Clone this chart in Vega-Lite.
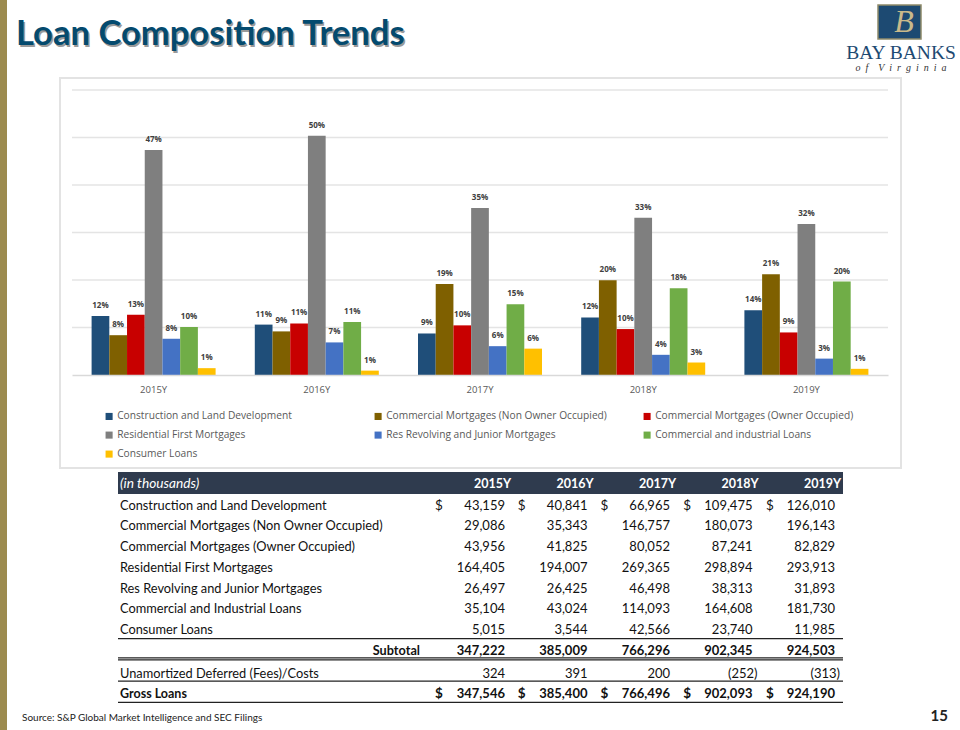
{"$schema":"https://vega.github.io/schema/vega-lite/v6.json","width":960,"height":730,"padding":0,"autosize":{"type":"fit","contains":"padding"},"background":"#ffffff","config":{"view":{"stroke":null},"axis":{"grid":false}},
"datasets":{
"shares":[
{"year":"2015Y","series":"Construction and Land Development","share":0.1243},{"year":"2015Y","series":"Commercial Mortgages (Non Owner Occupied)","share":0.0838},{"year":"2015Y","series":"Commercial Mortgages (Owner Occupied)","share":0.1266},{"year":"2015Y","series":"Residential First Mortgages","share":0.4735},{"year":"2015Y","series":"Res Revolving and Junior Mortgages","share":0.0763},{"year":"2015Y","series":"Commercial and industrial Loans","share":0.1011},{"year":"2015Y","series":"Consumer Loans","share":0.0144},
{"year":"2016Y","series":"Construction and Land Development","share":0.1061},{"year":"2016Y","series":"Commercial Mortgages (Non Owner Occupied)","share":0.0918},{"year":"2016Y","series":"Commercial Mortgages (Owner Occupied)","share":0.1086},{"year":"2016Y","series":"Residential First Mortgages","share":0.5039},{"year":"2016Y","series":"Res Revolving and Junior Mortgages","share":0.0686},{"year":"2016Y","series":"Commercial and industrial Loans","share":0.1117},{"year":"2016Y","series":"Consumer Loans","share":0.0092},
{"year":"2017Y","series":"Construction and Land Development","share":0.0874},{"year":"2017Y","series":"Commercial Mortgages (Non Owner Occupied)","share":0.1915},{"year":"2017Y","series":"Commercial Mortgages (Owner Occupied)","share":0.1045},{"year":"2017Y","series":"Residential First Mortgages","share":0.3515},{"year":"2017Y","series":"Res Revolving and Junior Mortgages","share":0.0607},{"year":"2017Y","series":"Commercial and industrial Loans","share":0.1489},{"year":"2017Y","series":"Consumer Loans","share":0.0555},
{"year":"2018Y","series":"Construction and Land Development","share":0.1213},{"year":"2018Y","series":"Commercial Mortgages (Non Owner Occupied)","share":0.1996},{"year":"2018Y","series":"Commercial Mortgages (Owner Occupied)","share":0.0967},{"year":"2018Y","series":"Residential First Mortgages","share":0.3312},{"year":"2018Y","series":"Res Revolving and Junior Mortgages","share":0.0425},{"year":"2018Y","series":"Commercial and industrial Loans","share":0.1824},{"year":"2018Y","series":"Consumer Loans","share":0.0263},
{"year":"2019Y","series":"Construction and Land Development","share":0.1363},{"year":"2019Y","series":"Commercial Mortgages (Non Owner Occupied)","share":0.2122},{"year":"2019Y","series":"Commercial Mortgages (Owner Occupied)","share":0.0896},{"year":"2019Y","series":"Residential First Mortgages","share":0.3179},{"year":"2019Y","series":"Res Revolving and Junior Mortgages","share":0.0345},{"year":"2019Y","series":"Commercial and industrial Loans","share":0.1966},{"year":"2019Y","series":"Consumer Loans","share":0.0130}],
"grid":[{"tick":0.1},{"tick":0.2},{"tick":0.3},{"tick":0.4},{"tick":0.5},{"tick":0.6}],
"table":[
{"row":"Construction and Land Development","year":"2015Y","amount":43159},{"row":"Construction and Land Development","year":"2016Y","amount":40841},{"row":"Construction and Land Development","year":"2017Y","amount":66965},{"row":"Construction and Land Development","year":"2018Y","amount":109475},{"row":"Construction and Land Development","year":"2019Y","amount":126010},
{"row":"Commercial Mortgages (Non Owner Occupied)","year":"2015Y","amount":29086},{"row":"Commercial Mortgages (Non Owner Occupied)","year":"2016Y","amount":35343},{"row":"Commercial Mortgages (Non Owner Occupied)","year":"2017Y","amount":146757},{"row":"Commercial Mortgages (Non Owner Occupied)","year":"2018Y","amount":180073},{"row":"Commercial Mortgages (Non Owner Occupied)","year":"2019Y","amount":196143},
{"row":"Commercial Mortgages (Owner Occupied)","year":"2015Y","amount":43956},{"row":"Commercial Mortgages (Owner Occupied)","year":"2016Y","amount":41825},{"row":"Commercial Mortgages (Owner Occupied)","year":"2017Y","amount":80052},{"row":"Commercial Mortgages (Owner Occupied)","year":"2018Y","amount":87241},{"row":"Commercial Mortgages (Owner Occupied)","year":"2019Y","amount":82829},
{"row":"Residential First Mortgages","year":"2015Y","amount":164405},{"row":"Residential First Mortgages","year":"2016Y","amount":194007},{"row":"Residential First Mortgages","year":"2017Y","amount":269365},{"row":"Residential First Mortgages","year":"2018Y","amount":298894},{"row":"Residential First Mortgages","year":"2019Y","amount":293913},
{"row":"Res Revolving and Junior Mortgages","year":"2015Y","amount":26497},{"row":"Res Revolving and Junior Mortgages","year":"2016Y","amount":26425},{"row":"Res Revolving and Junior Mortgages","year":"2017Y","amount":46498},{"row":"Res Revolving and Junior Mortgages","year":"2018Y","amount":38313},{"row":"Res Revolving and Junior Mortgages","year":"2019Y","amount":31893},
{"row":"Commercial and Industrial Loans","year":"2015Y","amount":35104},{"row":"Commercial and Industrial Loans","year":"2016Y","amount":43024},{"row":"Commercial and Industrial Loans","year":"2017Y","amount":114093},{"row":"Commercial and Industrial Loans","year":"2018Y","amount":164608},{"row":"Commercial and Industrial Loans","year":"2019Y","amount":181730},
{"row":"Consumer Loans","year":"2015Y","amount":5015},{"row":"Consumer Loans","year":"2016Y","amount":3544},{"row":"Consumer Loans","year":"2017Y","amount":42566},{"row":"Consumer Loans","year":"2018Y","amount":23740},{"row":"Consumer Loans","year":"2019Y","amount":11985},
{"row":"Subtotal","year":"2015Y","amount":347222},{"row":"Subtotal","year":"2016Y","amount":385009},{"row":"Subtotal","year":"2017Y","amount":766296},{"row":"Subtotal","year":"2018Y","amount":902345},{"row":"Subtotal","year":"2019Y","amount":924503},
{"row":"Unamortized Deferred (Fees)/Costs","year":"2015Y","amount":324},{"row":"Unamortized Deferred (Fees)/Costs","year":"2016Y","amount":391},{"row":"Unamortized Deferred (Fees)/Costs","year":"2017Y","amount":200},{"row":"Unamortized Deferred (Fees)/Costs","year":"2018Y","amount":-252},{"row":"Unamortized Deferred (Fees)/Costs","year":"2019Y","amount":-313},
{"row":"Gross Loans","year":"2015Y","amount":347546},{"row":"Gross Loans","year":"2016Y","amount":385400},{"row":"Gross Loans","year":"2017Y","amount":766496},{"row":"Gross Loans","year":"2018Y","amount":902093},{"row":"Gross Loans","year":"2019Y","amount":924190}]
},
"layer":[
{"data":{"values":[{"item":"edge band"}]},"mark":{"type":"rect","fill":"#9c8b4f"},"encoding":{"x":{"datum":0,"type":"quantitative","scale":{"domain":[0,1],"range":[0,7]},"axis":null},"x2":{"datum":1},"y":{"datum":0,"type":"quantitative","scale":{"domain":[0,1],"range":[0,730]},"axis":null},"y2":{"datum":1}}},
{"data":{"values":[{"item":"chart frame"}]},"mark":{"type":"rect","fill":"#ffffff","stroke":"#e3e3e3","strokeWidth":2},"encoding":{"x":{"datum":0,"type":"quantitative","scale":{"domain":[0,1],"range":[60,901]},"axis":null},"x2":{"datum":1},"y":{"datum":0,"type":"quantitative","scale":{"domain":[0,1],"range":[78,468]},"axis":null},"y2":{"datum":1}}},
{"data":{"name":"grid"},"mark":{"type":"rule","stroke":"#e4e4e4","strokeWidth":1.5},"encoding":{"x":{"datum":0,"type":"quantitative","scale":{"domain":[0,1],"range":[72,888]},"axis":null},"x2":{"datum":1},"y":{"field":"tick","type":"quantitative","scale":{"domain":[0,0.6],"range":[375,90]},"axis":null}}},
{"data":{"name":"shares"},"encoding":{"x":{"field":"year","type":"nominal","scale":{"range":[72,888],"paddingInner":0,"paddingOuter":0},"axis":{"title":null,"orient":"bottom","offset":-355,"zindex":1,"ticks":false,"domainColor":"#d9d9d9","domainWidth":1.5,"labelColor":"#595959","labelFont":"Open Sans","labelFontSize":9.5,"labelPadding":9,"labelAngle":0}},"xOffset":{"field":"series","type":"nominal","scale":{"domain":["Construction and Land Development","Commercial Mortgages (Non Owner Occupied)","Commercial Mortgages (Owner Occupied)","Residential First Mortgages","Res Revolving and Junior Mortgages","Commercial and industrial Loans","Consumer Loans"],"paddingInner":0,"paddingOuter":0,"range":[19.6,143.6]}},"y":{"field":"share","type":"quantitative","scale":{"domain":[0,0.6],"range":[375,90]},"axis":null}},
"layer":[
{"mark":{"type":"bar"},"encoding":{"color":{"field":"series","type":"nominal","scale":{"domain":["Construction and Land Development","Commercial Mortgages (Non Owner Occupied)","Commercial Mortgages (Owner Occupied)","Residential First Mortgages","Res Revolving and Junior Mortgages","Commercial and industrial Loans","Consumer Loans"],"range":["#1f4e79","#7f6000","#c80000","#7f7f7f","#4472c4","#70ad47","#ffc000"]},"legend":{"title":null,"orient":"none","legendX":104,"legendY":411,"columns":3,"direction":"horizontal","gridAlign":"all","symbolType":"square","symbolSize":50,"symbolStrokeWidth":0,"labelFont":"Open Sans","labelFontSize":10.2,"labelColor":"#595959","labelLimit":300,"labelOffset":3,"columnPadding":35,"rowPadding":8}}}},
{"mark":{"type":"text","dy":-10,"font":"Open Sans","fontSize":8,"fontWeight":"bold","fill":"#404040"},"encoding":{"text":{"field":"share","type":"quantitative","format":".0%"}}}
]},
{"data":{"values":[{"t":"Loan Composition Trends"}]},"mark":{"type":"text","align":"left","baseline":"alphabetic","font":"Lato","fontWeight":"bold","fontSize":34.6,"fill":"#9a9a9a"},"encoding":{"x":{"datum":0,"type":"quantitative","scale":{"domain":[0,1],"range":[17.5,18.5]},"axis":null},"y":{"datum":0,"type":"quantitative","scale":{"domain":[0,1],"range":[46.5,47.5]},"axis":null},"text":{"field":"t"}}},
{"data":{"values":[{"t":"Loan Composition Trends"}]},"mark":{"type":"text","align":"left","baseline":"alphabetic","font":"Lato","fontWeight":"bold","fontSize":34.6,"fill":"#044a6e"},"encoding":{"x":{"datum":0,"type":"quantitative","scale":{"domain":[0,1],"range":[16,17]},"axis":null},"y":{"datum":0,"type":"quantitative","scale":{"domain":[0,1],"range":[45,46]},"axis":null},"text":{"field":"t"}}},
{"data":{"values":[{"item":"logo crest"}]},"mark":{"type":"rect","fill":"#1d4a72","stroke":"#8f8a6a","strokeWidth":1.5},"encoding":{"x":{"datum":0,"type":"quantitative","scale":{"domain":[0,1],"range":[878,921]},"axis":null},"x2":{"datum":1},"y":{"datum":0,"type":"quantitative","scale":{"domain":[0,1],"range":[5,39]},"axis":null},"y2":{"datum":1}}},
{"data":{"values":[{"t":"B"}]},"mark":{"type":"text","align":"center","baseline":"middle","font":"Liberation Serif","fontStyle":"italic","fontSize":32,"fill":"#c9b98a"},"encoding":{"x":{"datum":0,"type":"quantitative","scale":{"domain":[0,1],"range":[904,905]},"axis":null},"y":{"datum":0,"type":"quantitative","scale":{"domain":[0,1],"range":[22,23]},"axis":null},"text":{"field":"t"}}},
{"data":{"values":[{"t":"BAY BANKS"}]},"mark":{"type":"text","align":"center","baseline":"alphabetic","font":"Liberation Serif","fontSize":19.5,"fill":"#1d4a72"},"encoding":{"x":{"datum":0,"type":"quantitative","scale":{"domain":[0,1],"range":[901,902]},"axis":null},"y":{"datum":0,"type":"quantitative","scale":{"domain":[0,1],"range":[59,60]},"axis":null},"text":{"field":"t"}}},
{"data":{"values":[{"t":"o\u00a0\u00a0f\u00a0\u00a0\u00a0\u00a0V\u00a0\u00a0i\u00a0\u00a0r\u00a0\u00a0g\u00a0\u00a0i\u00a0\u00a0n\u00a0\u00a0i\u00a0\u00a0a"}]},"mark":{"type":"text","align":"center","baseline":"alphabetic","font":"Liberation Serif","fontStyle":"italic","fontSize":10,"fill":"#333333"},"encoding":{"x":{"datum":0,"type":"quantitative","scale":{"domain":[0,1],"range":[901,902]},"axis":null},"y":{"datum":0,"type":"quantitative","scale":{"domain":[0,1],"range":[71,72]},"axis":null},"text":{"field":"t"}}},
{"data":{"values":[{"item":"table header"}]},"mark":{"type":"rect","fill":"#2f3b4e"},"encoding":{"x":{"datum":0,"type":"quantitative","scale":{"domain":[0,1],"range":[118,843]},"axis":null},"x2":{"datum":1},"y":{"datum":0,"type":"quantitative","scale":{"domain":[0,1],"range":[472,494]},"axis":null},"y2":{"datum":1}}},
{"data":{"values":[{"t":"(in thousands)"}]},"mark":{"type":"text","align":"left","baseline":"middle","font":"Lato","fontStyle":"italic","fontSize":13.7,"fill":"#ffffff"},"encoding":{"x":{"datum":0,"type":"quantitative","scale":{"domain":[0,1],"range":[120,121]},"axis":null},"y":{"datum":0,"type":"quantitative","scale":{"domain":[0,1],"range":[484,485]},"axis":null},"text":{"field":"t"}}},
{"data":{"values":[{"year":"2015Y"},{"year":"2016Y"},{"year":"2017Y"},{"year":"2018Y"},{"year":"2019Y"}]},"mark":{"type":"text","align":"right","baseline":"middle","dx":6,"font":"Lato","fontWeight":"bold","fontSize":12.5,"fill":"#ffffff"},"encoding":{"x":{"field":"year","type":"nominal","scale":{"type":"point","padding":0,"range":[505,835]},"axis":null},"y":{"datum":0,"type":"quantitative","scale":{"domain":[0,1],"range":[484,485]},"axis":null},"text":{"field":"year"}}},
{"data":{"name":"table"},"transform":[{"filter":"datum.year=='2015Y' && datum.row!='Subtotal' && datum.row!='Gross Loans' && datum.row!='Unamortized Deferred (Fees)/Costs'"}],"mark":{"type":"text","align":"left","baseline":"middle","font":"Lato","fontSize":12.8,"fill":"#111111"},"encoding":{"x":{"datum":0,"type":"quantitative","scale":{"domain":[0,1],"range":[120,121]},"axis":null},"y":{"field":"row","type":"nominal","scale":{"type":"point","padding":0,"domain":["Construction and Land Development","Commercial Mortgages (Non Owner Occupied)","Commercial Mortgages (Owner Occupied)","Residential First Mortgages","Res Revolving and Junior Mortgages","Commercial and Industrial Loans","Consumer Loans","Subtotal"],"range":[505.7,650.7]},"axis":null},"text":{"field":"row"}}},
{"data":{"name":"table"},"transform":[{"filter":"datum.row!='Subtotal' && datum.row!='Gross Loans' && datum.row!='Unamortized Deferred (Fees)/Costs'"}],"mark":{"type":"text","align":"right","baseline":"middle","font":"Lato","fontSize":13,"fill":"#111111"},"encoding":{"x":{"field":"year","type":"nominal","scale":{"type":"point","padding":0,"range":[505,835]},"axis":null},"y":{"field":"row","type":"nominal","scale":{"type":"point","padding":0,"domain":["Construction and Land Development","Commercial Mortgages (Non Owner Occupied)","Commercial Mortgages (Owner Occupied)","Residential First Mortgages","Res Revolving and Junior Mortgages","Commercial and Industrial Loans","Consumer Loans","Subtotal"],"range":[505.7,650.7]},"axis":null},"text":{"field":"amount","type":"quantitative","format":","}}},
{"data":{"name":"table"},"transform":[{"filter":"datum.row=='Construction and Land Development'"}],"mark":{"type":"text","align":"center","baseline":"middle","font":"Lato","fontSize":13.5,"fill":"#111111"},"encoding":{"x":{"field":"year","type":"nominal","scale":{"type":"point","padding":0,"range":[439,770]},"axis":null},"y":{"datum":0,"type":"quantitative","scale":{"domain":[0,1],"range":[505.7,506.7]},"axis":null},"text":{"value":"$"}}},
{"data":{"name":"table"},"transform":[{"filter":"datum.row=='Subtotal' && datum.year=='2015Y'"}],"mark":{"type":"text","align":"right","baseline":"middle","font":"Lato","fontWeight":"bold","fontSize":12.7,"fill":"#111111"},"encoding":{"x":{"datum":0,"type":"quantitative","scale":{"domain":[0,1],"range":[420,421]},"axis":null},"y":{"datum":0,"type":"quantitative","scale":{"domain":[0,1],"range":[650.7,651.7]},"axis":null},"text":{"field":"row"}}},
{"data":{"name":"table"},"transform":[{"filter":"datum.row=='Subtotal'"}],"mark":{"type":"text","align":"right","baseline":"middle","font":"Lato","fontWeight":"bold","fontSize":13,"fill":"#111111"},"encoding":{"x":{"field":"year","type":"nominal","scale":{"type":"point","padding":0,"range":[505,835]},"axis":null},"y":{"datum":0,"type":"quantitative","scale":{"domain":[0,1],"range":[650.7,651.7]},"axis":null},"text":{"field":"amount","type":"quantitative","format":","}}},
{"data":{"name":"table"},"transform":[{"filter":"datum.row=='Unamortized Deferred (Fees)/Costs' && datum.year=='2015Y'"}],"mark":{"type":"text","align":"left","baseline":"middle","font":"Lato","fontSize":12.8,"fill":"#111111"},"encoding":{"x":{"datum":0,"type":"quantitative","scale":{"domain":[0,1],"range":[120,121]},"axis":null},"y":{"datum":0,"type":"quantitative","scale":{"domain":[0,1],"range":[673.7,674.7]},"axis":null},"text":{"field":"row"}}},
{"data":{"name":"table"},"transform":[{"filter":"datum.row=='Unamortized Deferred (Fees)/Costs' && datum.amount>=0"}],"mark":{"type":"text","align":"right","baseline":"middle","font":"Lato","fontSize":13,"fill":"#111111"},"encoding":{"x":{"field":"year","type":"nominal","scale":{"type":"point","padding":0,"domain":["2015Y","2016Y","2017Y","2018Y","2019Y"],"range":[505,835]},"axis":null},"y":{"datum":0,"type":"quantitative","scale":{"domain":[0,1],"range":[673.7,674.7]},"axis":null},"text":{"field":"amount","type":"quantitative","format":","}}},
{"data":{"name":"table"},"transform":[{"filter":"datum.row=='Unamortized Deferred (Fees)/Costs' && datum.amount<0"}],"mark":{"type":"text","align":"right","baseline":"middle","dx":5,"font":"Lato","fontSize":13,"fill":"#111111"},"encoding":{"x":{"field":"year","type":"nominal","scale":{"type":"point","padding":0,"domain":["2015Y","2016Y","2017Y","2018Y","2019Y"],"range":[505,835]},"axis":null},"y":{"datum":0,"type":"quantitative","scale":{"domain":[0,1],"range":[673.7,674.7]},"axis":null},"text":{"field":"amount","type":"quantitative","format":"(,.0f"}}},
{"data":{"name":"table"},"transform":[{"filter":"datum.row=='Gross Loans' && datum.year=='2015Y'"}],"mark":{"type":"text","align":"left","baseline":"middle","font":"Lato","fontWeight":"bold","fontSize":12.5,"fill":"#111111"},"encoding":{"x":{"datum":0,"type":"quantitative","scale":{"domain":[0,1],"range":[120,121]},"axis":null},"y":{"datum":0,"type":"quantitative","scale":{"domain":[0,1],"range":[694.3,695.3]},"axis":null},"text":{"field":"row"}}},
{"data":{"name":"table"},"transform":[{"filter":"datum.row=='Gross Loans'"}],"mark":{"type":"text","align":"right","baseline":"middle","font":"Lato","fontWeight":"bold","fontSize":13,"fill":"#111111"},"encoding":{"x":{"field":"year","type":"nominal","scale":{"type":"point","padding":0,"range":[505,835]},"axis":null},"y":{"datum":0,"type":"quantitative","scale":{"domain":[0,1],"range":[694.3,695.3]},"axis":null},"text":{"field":"amount","type":"quantitative","format":","}}},
{"data":{"name":"table"},"transform":[{"filter":"datum.row=='Gross Loans'"}],"mark":{"type":"text","align":"center","baseline":"middle","font":"Lato","fontWeight":"bold","fontSize":13.5,"fill":"#111111"},"encoding":{"x":{"field":"year","type":"nominal","scale":{"type":"point","padding":0,"range":[439,770]},"axis":null},"y":{"datum":0,"type":"quantitative","scale":{"domain":[0,1],"range":[694.3,695.3]},"axis":null},"text":{"value":"$"}}},
{"data":{"values":[{"line":"above subtotal"},{"line":"below subtotal"},{"line":"above gross"},{"line":"below gross"}]},"mark":{"type":"rule","stroke":"#222222","strokeWidth":1.2},"encoding":{"x":{"datum":0,"type":"quantitative","scale":{"domain":[0,1],"range":[118,843]},"axis":null},"x2":{"datum":1},"y":{"field":"line","type":"nominal","scale":{"type":"point","padding":0,"domain":["above subtotal","below subtotal","above gross","below gross"],"range":[638.7,702.3]},"axis":null}}},
{"data":{"values":[{"line":"subtotal double"}]},"mark":{"type":"rule","stroke":"#222222","strokeWidth":1.2},"encoding":{"x":{"datum":0,"type":"quantitative","scale":{"domain":[0,1],"range":[118,843]},"axis":null},"x2":{"datum":1},"y":{"datum":0,"type":"quantitative","scale":{"domain":[0,1],"range":[657.8,658.8]},"axis":null}}},
{"data":{"values":[{"t":"Source: S&P Global Market Intelligence and SEC Filings"}]},"mark":{"type":"text","align":"left","baseline":"middle","font":"Lato","fontSize":10,"fill":"#222222"},"encoding":{"x":{"datum":0,"type":"quantitative","scale":{"domain":[0,1],"range":[22,23]},"axis":null},"y":{"datum":0,"type":"quantitative","scale":{"domain":[0,1],"range":[718,719]},"axis":null},"text":{"field":"t"}}},
{"data":{"values":[{"t":"15"}]},"mark":{"type":"text","align":"right","baseline":"middle","font":"Lato","fontWeight":"bold","fontSize":15,"fill":"#222222"},"encoding":{"x":{"datum":0,"type":"quantitative","scale":{"domain":[0,1],"range":[948,949]},"axis":null},"y":{"datum":0,"type":"quantitative","scale":{"domain":[0,1],"range":[716,717]},"axis":null},"text":{"field":"t"}}}
],
"resolve":{"scale":{"x":"independent","y":"independent"},"axis":{"x":"independent","y":"independent"}}}
